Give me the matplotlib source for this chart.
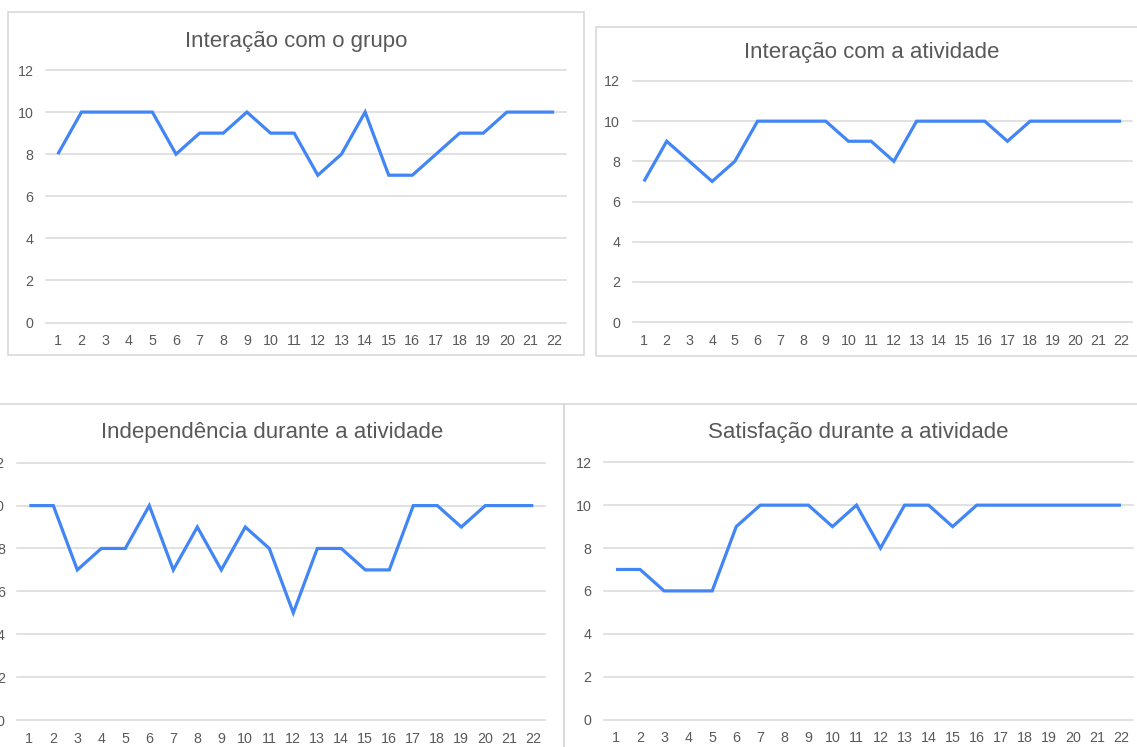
import matplotlib
matplotlib.use("Agg")
import matplotlib.pyplot as plt
from matplotlib.patches import Rectangle

W, H = 1137, 747

sessions = list(range(1, 23))
titles = [
    "Interação com o grupo",
    "Interação com a atividade",
    "Independência durante a atividade",
    "Satisfação durante a atividade",
]
grupo = [8, 10, 10, 10, 10, 8, 9, 9, 10, 9, 9, 7, 8, 10, 7, 7, 8, 9, 9, 10, 10, 10]
atividade = [7, 9, 8, 7, 8, 10, 10, 10, 10, 9, 9, 8, 10, 10, 10, 10, 9, 10, 10, 10, 10, 10]
independencia = [10, 10, 7, 8, 8, 10, 7, 9, 7, 9, 8, 5, 8, 8, 7, 7, 10, 10, 9, 10, 10, 10]
satisfacao = [7, 7, 6, 6, 6, 9, 10, 10, 10, 9, 10, 8, 10, 10, 9, 10, 10, 10, 10, 10, 10, 10]
series = [grupo, atividade, independencia, satisfacao]
yticks = [0, 2, 4, 6, 8, 10, 12]

# layout in pixels: box (x0, y0, x1, y1), plot area (x0, top, x1, bottom), title (cx, baseline)
boxes = [(8, 12, 584, 355), (596, 27, 1142, 356), (-5, 404, 564, 760), (564, 404, 1145, 760)]
plots = [(46, 70, 566, 322.5), (632.6, 81, 1132.4, 322), (17.3, 462.7, 545.3, 720), (604, 462.3, 1133, 719.5)]
tpos = [(296, 46.5), (872, 58), (272, 438), (858, 438)]

LINE = "#4285F4"
GRID = "#D9D9D9"
TXT = "#595959"
FONT = ["Liberation Sans", "DejaVu Sans"]

fig = plt.figure(figsize=(W / 100, H / 100), dpi=100)
fig.patch.set_facecolor("white")

def fx(x):
    return x / W

def fy(y):
    return 1 - y / H

for i in range(4):
    bx0, by0, bx1, by1 = boxes[i]
    fig.patches.append(Rectangle((fx(bx0), fy(by1)), (bx1 - bx0) / W, (by1 - by0) / H,
                                 transform=fig.transFigure, fill=False,
                                 edgecolor=GRID, linewidth=1.2, zorder=0))
for i in range(4):
    px0, py0, px1, py1 = plots[i]
    ax = fig.add_axes([fx(px0), fy(py1), (px1 - px0) / W, (py1 - py0) / H])
    ax.set_facecolor("none")
    for yv in yticks:
        ax.axhline(yv, color=GRID, linewidth=1.1, zorder=1, clip_on=False)
    ax.plot(sessions, series[i], color=LINE, linewidth=2.3, solid_joinstyle="miter",
            solid_capstyle="butt", zorder=3, clip_on=False)
    ax.set_xlim(0.5, 22.5)
    ax.set_ylim(0, 12)
    ax.set_yticks(yticks)
    ax.set_xticks(sessions)
    ax.set_xticklabels([str(s) for s in sessions])
    for s in ax.spines.values():
        s.set_visible(False)
    ax.tick_params(axis="both", length=0, labelsize=10.3, labelcolor=TXT)
    ax.tick_params(axis="y", pad=9)
    ax.tick_params(axis="x", pad=8.3)
    for lab in ax.get_xticklabels() + ax.get_yticklabels():
        lab.set_family(FONT)
    cx, cy = tpos[i]
    fig.text(fx(cx), fy(cy), titles[i], ha="center", va="baseline", fontsize=16,
             color=TXT, family=FONT)

fig.savefig("out.png", dpi=100, facecolor="white")
